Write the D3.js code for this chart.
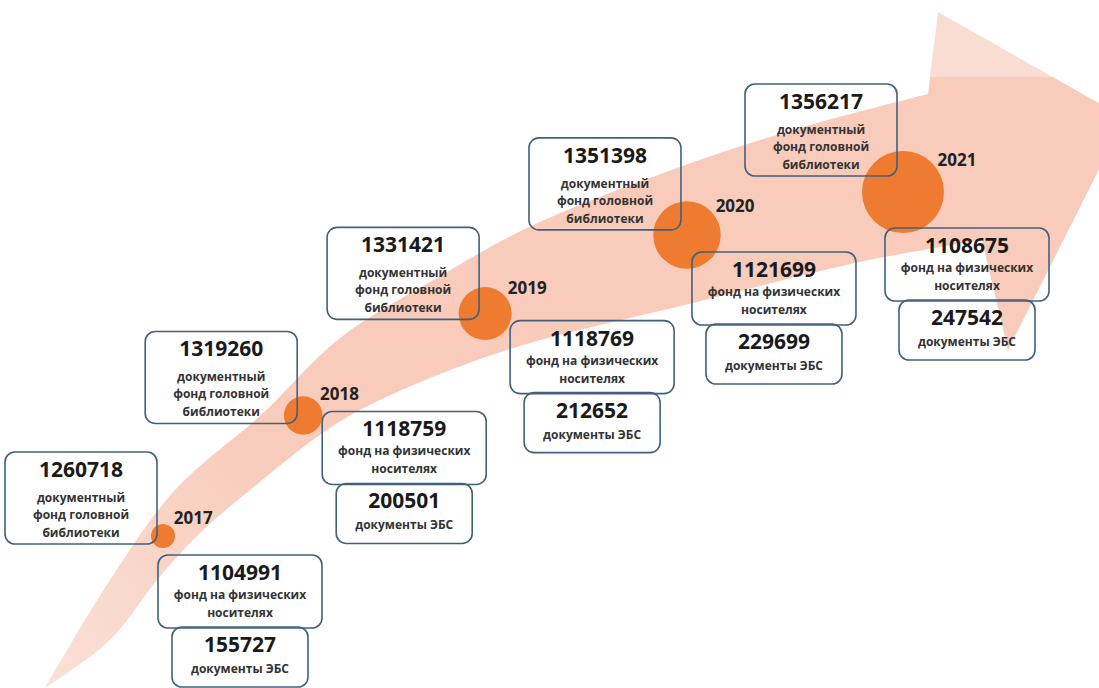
<!DOCTYPE html>
<html>
<head>
<meta charset="utf-8">
<script src="https://d3js.org/d3.v7.min.js"></script>
<style>
  body { margin: 0; background: #fff; }
  text { font-family: "Open Sans", "Noto Sans", sans-serif; font-weight: 700; }
</style>
</head>
<body>
<div id="chart"></div>
<script>
// --- data ---
var years = [2017, 2018, 2019, 2020, 2021];
var mainFund = [1260718, 1319260, 1331421, 1351398, 1356217];
var physicalFund = [1104991, 1118759, 1118769, 1121699, 1108675];
var ebsDocs = [155727, 200501, 212652, 229699, 247542];

var mainLabel = ["документный", "фонд головной", "библиотеки"];
var physicalLabel = ["фонд на физических", "носителях"];
var ebsLabel = ["документы ЭБС"];

// --- layout ---
var width = 1099, height = 688;
// shift of the lower box pair from each circle centre
var lowerShift = [[-5, 19], [19, -4], [25, 7], [5, 17], [-18, 36]];

var svg = d3.select('#chart').append('svg')
  .attr('width', width)
  .attr('height', height);

var step = d3.scaleLinear().domain([2017, 2021]).range([0, 4]);
var xPos = d3.scalePow().exponent(1.2).domain([0, 4]).range([163, 903]);
var yPos = d3.scalePow().exponent(1.5).domain([0, 4]).range([192, 536]);
var rad = d3.scaleLinear().domain([2017, 2021]).range([12, 41]);

var rows = years.map(function (y, i) {
  return {
    year: y, main: mainFund[i], phys: physicalFund[i], ebs: ebsDocs[i],
    cx: xPos(step(y)), cy: yPos(4 - step(y)), r: rad(y), shift: lowerShift[i]
  };
});

// background curved arrow
var defs = svg.append('defs');
var grad = defs.append('linearGradient')
  .attr('id', 'band')
  .attr('gradientUnits', 'userSpaceOnUse')
  .attr('x1', 45).attr('y1', 688).attr('x2', 420).attr('y2', 320);
grad.append('stop').attr('offset', 0).attr('stop-color', '#fbe0d7');
grad.append('stop').attr('offset', 0.6).attr('stop-color', '#f8ccbc');
grad.append('stop').attr('offset', 1).attr('stop-color', '#f8cbbb');

var upperEdge = [[45, 688], [110, 580], [175, 490], [261, 415], [340, 338], [430, 282],
  [527, 228], [677, 168], [800, 128], [928, 94]];
var head = [[938, 12], [1125, 118], [1008, 350]];
var lowerEdge = [[982, 240], [860, 262], [693, 303], [507, 350], [380, 400], [327, 430],
  [250, 490], [200, 533], [157, 580], [110, 640], [45, 688]];

var curve = d3.line().curve(d3.curveCatmullRom.alpha(0.5));
var d = curve(upperEdge) +
  head.map(function (p) { return 'L' + p[0] + ',' + p[1]; }).join('') +
  curve(lowerEdge).replace(/^M/, 'L') + 'Z';

svg.append('path')
  .attr('d', d)
  .attr('fill', 'url(#band)');

// lighter strip at the top, as in the scan
svg.append('rect')
  .attr('x', 0).attr('y', 0)
  .attr('width', width).attr('height', 77)
  .attr('fill', '#fff').attr('opacity', 0.35);

// circles
svg.selectAll('circle.year')
  .data(rows)
  .enter()
  .append('circle')
  .attr('class', 'year')
  .attr('cx', function (d) { return d.cx; })
  .attr('cy', function (d) { return d.cy; })
  .attr('r', function (d) { return d.r; })
  .attr('fill', '#ee7b2f');

// year labels
svg.selectAll('text.yr')
  .data(rows)
  .enter()
  .append('text')
  .attr('class', 'yr')
  .attr('x', function (d) { return d.cx + 0.82 * d.r + 1; })
  .attr('y', function (d) { return d.cy - 0.5 * d.r - 12 + 6; })
  .attr('font-size', 17)
  .attr('fill', '#222')
  .text(function (d) { return d.year; });

function box(g, x, y, w, h, value, lines, lineY) {
  g.append('rect')
    .attr('x', x).attr('y', y)
    .attr('width', w).attr('height', h)
    .attr('rx', 10)
    .attr('fill', 'none')
    .attr('stroke', '#41607e')
    .attr('stroke-width', 1.6);
  g.append('text')
    .attr('x', x + w / 2).attr('y', y + 25)
    .attr('text-anchor', 'middle')
    .attr('font-size', 21)
    .attr('fill', '#1a1a1a')
    .text(value);
  lines.forEach(function (t, k) {
    g.append('text')
      .attr('x', x + w / 2).attr('y', y + lineY[k])
      .attr('text-anchor', 'middle')
      .attr('font-size', 12)
      .attr('fill', '#333')
      .text(t);
  });
}

rows.forEach(function (d) {
  var g = svg.append('g');
  // upper box: main fund
  var tw = 152, th = 92;
  var tx = d.cx - 6 - tw;
  var ty = d.cy - 84 - 1.5 * Math.max(0, d.r - 25);
  box(g, tx, ty, tw, th, d.main, mainLabel, [50, 67, 85]);

  // lower box: physical carriers
  var pw = 164, ph = 73;
  var px = d.cx + d.shift[0];
  var py = d.cy + d.shift[1];
  box(g, px, py, pw, ph, d.phys, physicalLabel, [44, 62]);

  // ebs box
  var ew = 136, eh = 60;
  box(g, px + (pw - ew) / 2, py + ph - 1, ew, eh, d.ebs, ebsLabel, [46]);
});
</script>
</body>
</html>
